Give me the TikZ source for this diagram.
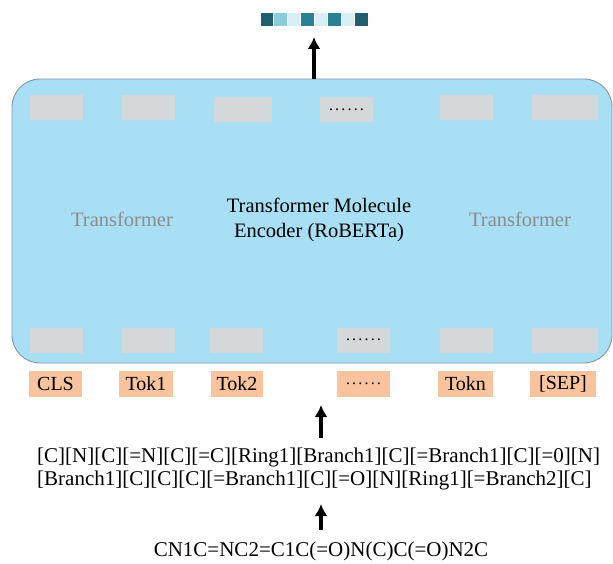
\documentclass[tikz,border=0pt]{standalone}
\usepackage{fontspec}
\setmainfont{Liberation Serif}
\usetikzlibrary{arrows.meta}
\definecolor{encfill}{HTML}{A8DFF4}
\definecolor{encdraw}{HTML}{7F98A4}
\definecolor{boxgray}{HTML}{D5D8DA}
\definecolor{tokorange}{HTML}{F9C39E}
\definecolor{txtgray}{HTML}{8C8C8C}
\definecolor{vdark}{HTML}{215F6D}
\definecolor{vmid}{HTML}{2A8196}
\definecolor{vlight}{HTML}{88CCDD}
\definecolor{vpale}{HTML}{D6EEF4}
\newcommand{\sixdots}{.\kern2.2pt.\kern2.2pt.\kern2.2pt.\kern2.2pt.\kern2.2pt.}
\begin{document}
\begin{tikzpicture}[x=1pt,y=-1pt,
  enc/.style={draw=encdraw,line width=0.9pt,fill=encfill,rounded corners=28pt,
    minimum width=600pt,minimum height=284pt,inner sep=0pt},
  gbox/.style={fill=boxgray,minimum width=53pt,minimum height=25pt,inner sep=0pt,
    font=\fontsize{16}{16}\selectfont},
  tok/.style={fill=tokorange,minimum height=26pt,inner sep=0pt,
    font=\fontsize{20}{20}\selectfont},
  vsq/.style={minimum width=13.5pt,minimum height=14pt,inner sep=0pt,draw=white,line width=0.4pt},
  arr/.style={line width=3.4pt,-{Latex[length=12pt,width=13pt]}},
  big/.style={font=\fontsize{20.5}{25}\selectfont,align=center,inner sep=0pt},
  seltxt/.style={font=\fontsize{21}{23}\selectfont,align=left,inner sep=0pt}
]
\useasboundingbox (0,0) rectangle (613,564);

% output vector
\foreach \c [count=\i] in {vdark,vlight,vpale,vmid,vpale,vmid,vpale,vdark}{
  \node[vsq,fill=\c] (v\i) at ({260+13.5*(\i-0.5)},19) {};
}
\coordinate (vec) at (314,37);

% encoder
\node[enc] (encoder) at (312,221) {};

% top gray boxes
\node[gbox] (t1) at (56.5,107.5) {};
\node[gbox] (t2) at (148.5,107.5) {};
\node[gbox,minimum width=58pt] (t3) at (243,109.5) {};
\node[gbox] (t4) at (346.5,109.5) {\sixdots};
\node[gbox] (t5) at (466.5,107.5) {};
\node[gbox,minimum width=66pt] (t6) at (565,107.5) {};

% bottom gray boxes
\node[gbox] (b1) at (56.5,340) {};
\node[gbox] (b2) at (148.5,340) {};
\node[gbox] (b3) at (236.5,340) {};
\node[gbox] (b4) at (363.5,340) {\sixdots};
\node[gbox] (b5) at (466.5,340) {};
\node[gbox,minimum width=66pt] (b6) at (565,340) {};

% texts inside encoder
\node[big,text=txtgray] (lt) at (122,219) {Transformer};
\node[big,text=txtgray] (rt) at (520,219) {Transformer};
\node[big] (ct) at (319,220) {Transformer Molecule\\Encoder (RoBERTa)};

% tokens
\node[tok,minimum width=53pt] (cls) at (55.5,384) {CLS};
\node[tok,minimum width=54pt] (tk1) at (146,384) {Tok1};
\node[tok,minimum width=52pt] (tk2) at (237,384) {Tok2};
\node[tok,minimum width=53pt,font=\fontsize{16}{16}\selectfont] (tkd) at (363.5,384) {\sixdots};
\node[tok,minimum width=55pt] (tkn) at (465.5,384) {Tokn};
\node[tok,minimum width=66pt] (sep) at (563,384) {[SEP]};

% selfies
\node[seltxt,anchor=west] (sel) at (37,469) {[C][N][C][=N][C][=C][Ring1][Branch1][C][=Branch1][C][=0][N]\\\relax[Branch1][C][C][C][=Branch1][C][=O][N][Ring1][=Branch2][C]};
\node[font=\fontsize{21}{21}\selectfont,inner sep=0pt] (smi) at (321,551) {CN1C=NC2=C1C(=O)N(C)C(=O)N2C};

\coordinate (a1s) at (321,438);
\coordinate (a1e) at (321,405);
\coordinate (a2s) at (321,530);
\coordinate (a2e) at (321,504);

% arrows
\draw[arr] (vec |- encoder.north) -- (vec);
\draw[arr] (a1s) -- (a1e);
\draw[arr] (a2s) -- (a2e);
\end{tikzpicture}
\end{document}
